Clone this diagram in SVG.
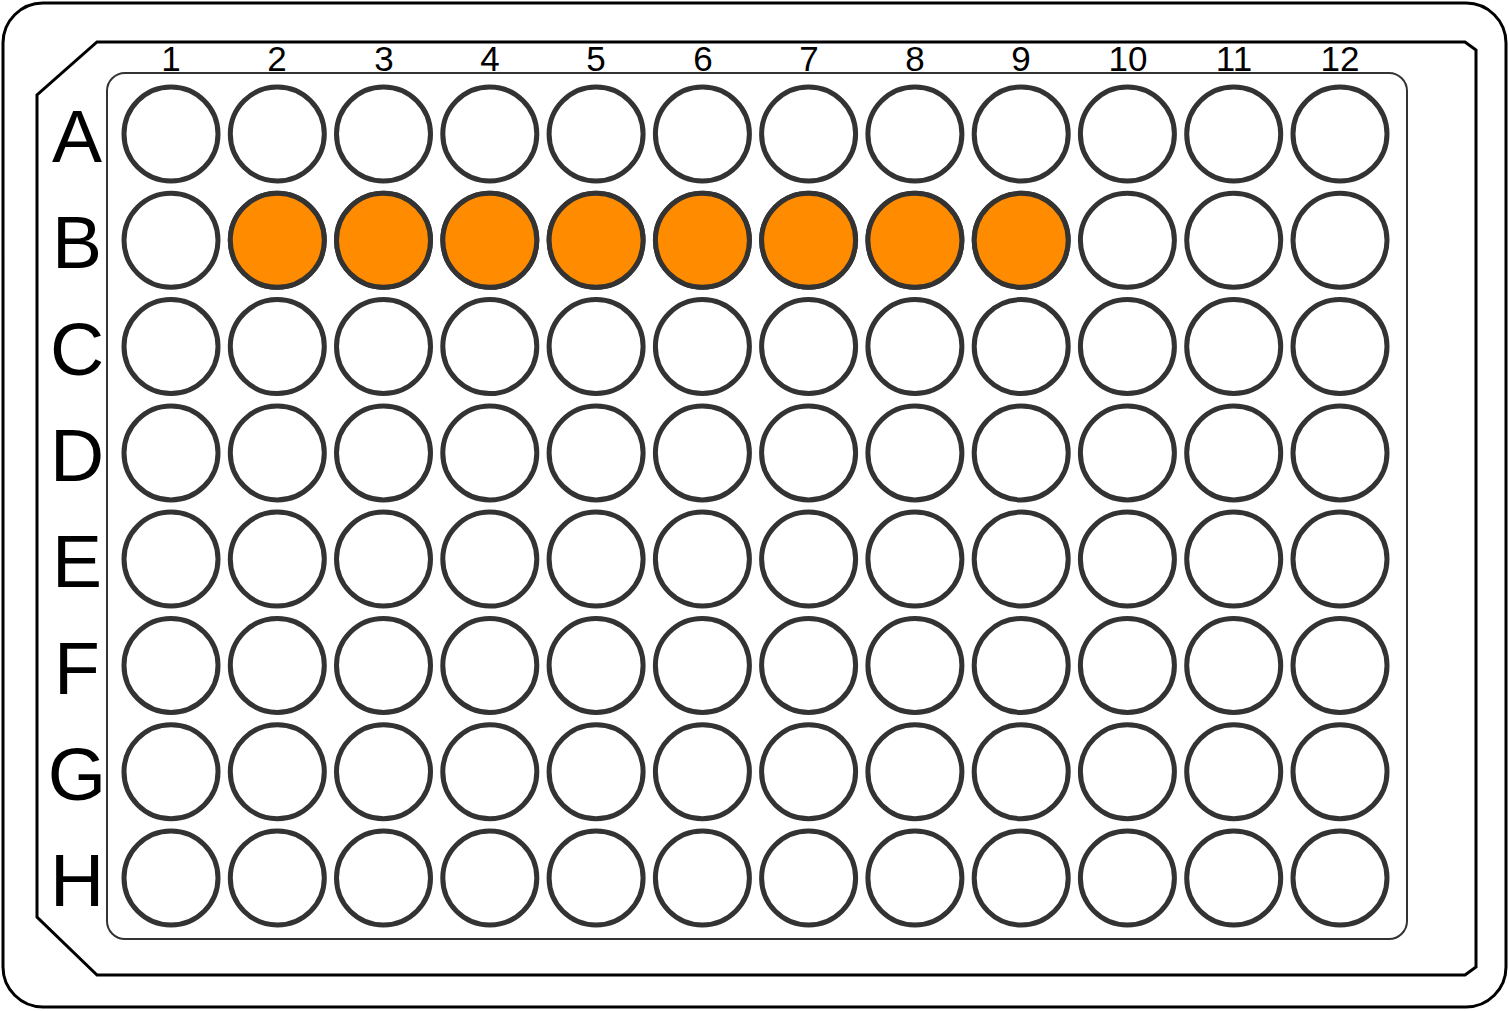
<svg xmlns="http://www.w3.org/2000/svg" width="1509" height="1011" viewBox="0 0 1509 1011">
<style>
.w{fill:#fff;stroke:#333;stroke-width:5}
.o{fill:#FF8C00;stroke:#333;stroke-width:5}
.cl{font-family:"Liberation Sans",Arial,sans-serif;font-size:35px;text-anchor:middle;fill:#000}
.rl{font-family:"Liberation Sans",Arial,sans-serif;font-size:75px;text-anchor:middle;fill:#000}
</style>
<rect width="1509" height="1011" fill="#fff"/>
<g id="plate">
<rect x="3" y="3" width="1503" height="1004" rx="40" ry="40" fill="#fff" stroke="#000" stroke-width="3"/>
<path d="M97,42 L1465,42 L1476,50 L1476,967 L1465,975 L97,975 L37,917 L37,95 Z" fill="#fff" stroke="#000" stroke-width="3"/>
<rect x="107" y="73" width="1300" height="866" rx="18" ry="18" fill="#fff" stroke="#333" stroke-width="2"/>
</g>
<g id="col-labels">
<text class="cl" x="171" y="71">1</text>
<text class="cl" x="277" y="71">2</text>
<text class="cl" x="384" y="71">3</text>
<text class="cl" x="490" y="71">4</text>
<text class="cl" x="596" y="71">5</text>
<text class="cl" x="703" y="71">6</text>
<text class="cl" x="809" y="71">7</text>
<text class="cl" x="915" y="71">8</text>
<text class="cl" x="1021" y="71">9</text>
<text class="cl" x="1128" y="71">10</text>
<text class="cl" x="1234" y="71">11</text>
<text class="cl" x="1340" y="71">12</text>
</g>
<g id="row-labels">
<text class="rl" x="77" y="162">A</text>
<text class="rl" x="77" y="268">B</text>
<text class="rl" x="77" y="375">C</text>
<text class="rl" x="77" y="481">D</text>
<text class="rl" x="77" y="587">E</text>
<text class="rl" x="77" y="694">F</text>
<text class="rl" x="77" y="800">G</text>
<text class="rl" x="77" y="906">H</text>
</g>
<defs>
<g id="row">
<circle class="w" cx="171" cy="0" r="47"/>
<circle class="w" cx="277.3" cy="0" r="47"/>
<circle class="w" cx="383.5" cy="0" r="47"/>
<circle class="w" cx="489.8" cy="0" r="47"/>
<circle class="w" cx="596.1" cy="0" r="47"/>
<circle class="w" cx="702.4" cy="0" r="47"/>
<circle class="w" cx="808.6" cy="0" r="47"/>
<circle class="w" cx="914.9" cy="0" r="47"/>
<circle class="w" cx="1021.2" cy="0" r="47"/>
<circle class="w" cx="1127.4" cy="0" r="47"/>
<circle class="w" cx="1233.7" cy="0" r="47"/>
<circle class="w" cx="1340" cy="0" r="47"/>
</g>
</defs>
<g id="wells">
<use href="#row" y="134"/>
<use href="#row" y="240.3"/>
<use href="#row" y="346.6"/>
<use href="#row" y="452.9"/>
<use href="#row" y="559.1"/>
<use href="#row" y="665.4"/>
<use href="#row" y="771.7"/>
<use href="#row" y="878"/>
<g id="row-B-filled">
<circle class="o" cx="277.3" cy="240.3" r="47"/>
<circle class="o" cx="383.5" cy="240.3" r="47"/>
<circle class="o" cx="489.8" cy="240.3" r="47"/>
<circle class="o" cx="596.1" cy="240.3" r="47"/>
<circle class="o" cx="702.4" cy="240.3" r="47"/>
<circle class="o" cx="808.6" cy="240.3" r="47"/>
<circle class="o" cx="914.9" cy="240.3" r="47"/>
<circle class="o" cx="1021.2" cy="240.3" r="47"/>
</g>
</g>
</svg>
